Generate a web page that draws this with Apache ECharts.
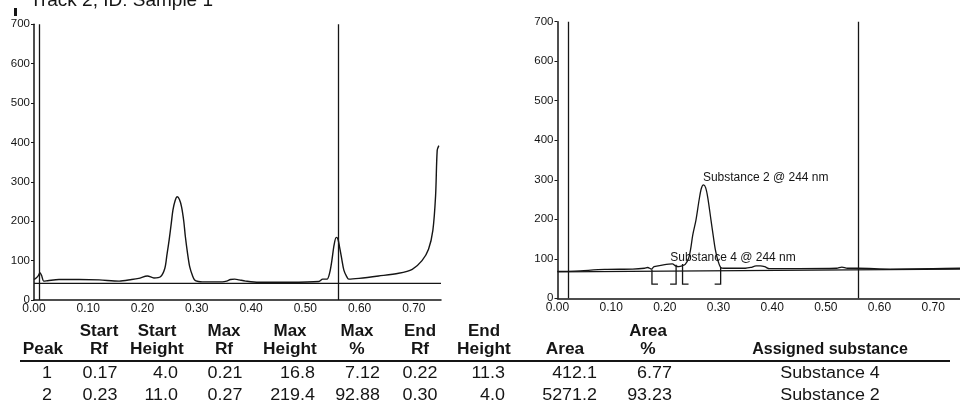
<!DOCTYPE html>
<html><head><meta charset="utf-8">
<script src="https://cdn.jsdelivr.net/npm/echarts@6/dist/echarts.min.js"></script>
<style>html,body{margin:0;padding:0;background:#fff}#c{width:960px;height:405px}</style>
</head><body><div id="c"></div>
<script>
// ---------- data ----------
const xTicks = [0, 0.1, 0.2, 0.3, 0.4, 0.5, 0.6, 0.7];
const yTicks = [0, 100, 200, 300, 400, 500, 600, 700];

// left densitogram (track scan)
const leftRf  = [0.000,0.004,0.008,0.011,0.014,0.018,0.025,0.046,0.083,0.120,0.157,0.180,0.193,0.209,0.221,0.233,0.241,0.245,0.249,0.253,0.256,0.260,0.264,0.268,0.272,0.276,0.279,0.283,0.287,0.292,0.296,0.303,0.310,0.347,0.355,0.362,0.370,0.378,0.390,0.414,0.470,0.525,0.532,0.540,0.545,0.549,0.553,0.557,0.560,0.563,0.567,0.571,0.576,0.580,0.599,0.635,0.672,0.697,0.715,0.727,0.735,0.740,0.743,0.746];
const leftSig = [52,56,62,69,62,48,49,52,52,51,48,52,55,61,56,59,80,115,152,195,228,252,262,255,236,200,160,118,84,62,51,47,46,46,48,52,53,51,48,45,45,47,53,53,70,101,140,159,155,135,105,76,60,53,55,61,68,78,100,129,177,264,380,392];
const leftBaseRf = [0, 0.75];
const leftBaseV = [42, 42];
const leftMarkers = [0.013, 0.556];

// right densitogram (integrated)
const rightRf  = [0.000,0.032,0.088,0.140,0.162,0.168,0.175,0.180,0.195,0.214,0.220,0.226,0.232,0.238,0.244,0.248,0.252,0.258,0.264,0.268,0.272,0.276,0.280,0.286,0.290,0.294,0.299,0.304,0.310,0.350,0.360,0.370,0.378,0.386,0.395,0.450,0.520,0.530,0.540,0.560,0.620,0.700,0.750];
const rightSig = [68,69,73,74,76,78,74,80,84,87,82,80,82,86,100,124,160,198,250,278,287,280,255,198,160,124,95,78,76,76,78,82,82,80,75,75,76,79,76,76,74,75,76];
const rightBaseRf = [0, 0.75];
const rightBaseV = [67, 74];
const rightMarkers = [0.017, 0.559];
const bracketRf = [0.176, 0.221, 0.233, 0.304];
const bracketTop = [73, 85, 87, 77];
const bracketBottom = [36, 36, 36, 36];
const bracketSide = [1, -1, 1, -1];
const peakLabels = ['Substance 2 @ 244 nm', 'Substance 4 @ 244 nm'];
const peakLabelRf = [0.271, 0.21];
const peakLabelV = [290, 88];

// table
const headLine1 = ['', 'Start', 'Start', 'Max', 'Max', 'Max', 'End', 'End', '', 'Area', ''];
const headLine2 = ['Peak', 'Rf', 'Height', 'Rf', 'Height', '%', 'Rf', 'Height', 'Area', '%', 'Assigned substance'];
const peakNo = [1, 2];
const startRf = [0.17, 0.23];
const startHeight = [4.0, 11.0];
const maxRf = [0.21, 0.27];
const maxHeight = [16.8, 219.4];
const maxPct = [7.12, 92.88];
const endRf = [0.22, 0.30];
const endHeight = [11.3, 4.0];
const area = [412.1, 5271.2];
const areaPct = [6.77, 93.23];
const assigned = ['Substance 4', 'Substance 2'];
const titleText = 'Track 2, ID: Sample 1';

// ---------- chart ----------
const FONT = '"Liberation Sans", Arial, sans-serif';
const INK = '#151515';
const chart = echarts.init(document.getElementById('c'), null, {renderer: 'canvas'});
const zip = (a, b) => a.map((v, i) => [v, b[i]]);

function xAxis(g) {
  return {type: 'value', gridIndex: g, min: xTicks[0], max: 0.75, interval: 0.1,
    axisLine: {show: true, onZero: false, lineStyle: {color: INK, width: 1.5}},
    axisTick: {show: false}, splitLine: {show: false},
    axisLabel: {color: INK, fontSize: 12, fontFamily: FONT, margin: 3, showMaxLabel: false,
      formatter: v => xTicks.some(t => Math.abs(t - v) < 1e-6) ? v.toFixed(2) : ''}};
}
function yAxis(g) {
  return {type: 'value', gridIndex: g, min: yTicks[0], max: yTicks[yTicks.length - 1], interval: 100,
    axisLine: {show: true, onZero: false, lineStyle: {color: INK, width: 1.5}},
    axisTick: {show: true, length: 3, lineStyle: {color: INK, width: 1}},
    splitLine: {show: false},
    axisLabel: {color: INK, fontSize: 11.5, fontFamily: FONT, margin: 4}};
}
function markers(list) {
  return {silent: true, symbol: ['none', 'none'], label: {show: false}, animation: false,
    lineStyle: {color: INK, type: 'solid', width: 1.3},
    data: list.map(x => ({xAxis: x}))};
}
const lineBase = {type: 'line', showSymbol: false, symbol: 'none', animation: false, silent: true, clip: true};

// table graphics
const colX = [43, 99, 157, 224, 290, 357, 420, 484, 565, 648, 830];
const valAnchor = [[47,'center'],[100,'center'],[178,'right'],[225,'center'],[315,'right'],[380,'right'],[420,'center'],[505,'right'],[597,'right'],[672,'right'],[830,'center']];
const rowY = [374, 396];
const graphics = [];
function txt(text, x, y, font, align, sx) {
  graphics.push({type: 'text', x: x, y: y, silent: true, scaleX: sx || 1,
    style: {text: text, font: font, fill: INK, align: align, textAlign: align,
      verticalAlign: 'middle', textVerticalAlign: 'middle'}});
}
const HF = 'bold 16px ' + FONT, VF = '16px ' + FONT;
headLine1.forEach((t, i) => { if (t) txt(t, colX[i], 332, HF, 'center', 1.06); });
headLine2.forEach((t, i) => { if (t) txt(t, colX[i], 350, HF, 'center', i === 10 ? 1 : 1.08); });
graphics.push({type: 'line', silent: true, shape: {x1: 20, y1: 361, x2: 950, y2: 361}, style: {stroke: INK, lineWidth: 2}});
const cols = [peakNo.map(String), startRf.map(v => v.toFixed(2)), startHeight.map(v => v.toFixed(1)),
  maxRf.map(v => v.toFixed(2)), maxHeight.map(v => v.toFixed(1)), maxPct.map(v => v.toFixed(2)),
  endRf.map(v => v.toFixed(2)), endHeight.map(v => v.toFixed(1)), area.map(v => v.toFixed(1)),
  areaPct.map(v => v.toFixed(2)), assigned];
cols.forEach((col, c) => col.forEach((t, r) => txt(t, valAnchor[c][0], rowY[r], VF, valAnchor[c][1], 1.12)));
// cut-off track title at the very top
graphics.push({type: 'rect', silent: true, shape: {x: 14, y: 8, width: 3, height: 8}, style: {fill: INK}});
graphics.push({type: 'text', x: 30, y: 10, silent: true,
  style: {text: titleText, font: '19px ' + FONT, fill: INK, align: 'left', textAlign: 'left',
    verticalAlign: 'bottom', textVerticalAlign: 'bottom'}});

chart.setOption({
  backgroundColor: '#ffffff',
  animation: false,
  grid: [
    {left: 34, top: 24.3, width: 407, height: 275.7, containLabel: false},
    {left: 557.5, top: 21.7, width: 405, height: 276.6, containLabel: false}
  ],
  xAxis: [xAxis(0), xAxis(1)],
  yAxis: [yAxis(0), yAxis(1)],
  series: [
    Object.assign({}, lineBase, {xAxisIndex: 0, yAxisIndex: 0, data: zip(leftRf, leftSig), smooth: 0.3,
      lineStyle: {color: INK, width: 1.4}, markLine: markers(leftMarkers)}),
    Object.assign({}, lineBase, {xAxisIndex: 0, yAxisIndex: 0, data: zip(leftBaseRf, leftBaseV),
      lineStyle: {color: INK, width: 1.2}}),
    Object.assign({}, lineBase, {xAxisIndex: 1, yAxisIndex: 1, data: zip(rightRf, rightSig), smooth: 0.3,
      lineStyle: {color: INK, width: 1.3}, markLine: markers(rightMarkers)}),
    Object.assign({}, lineBase, {xAxisIndex: 1, yAxisIndex: 1, data: zip(rightBaseRf, rightBaseV),
      lineStyle: {color: INK, width: 1.2}}),
    {type: 'custom', xAxisIndex: 1, yAxisIndex: 1, silent: true, animation: false,
      data: bracketRf.map((r, i) => [r, bracketTop[i], bracketBottom[i], bracketSide[i]]),
      renderItem: function (params, api) {
        const top = api.coord([api.value(0), api.value(1)]);
        const bot = api.coord([api.value(0), api.value(2)]);
        const dir = api.value(3);
        return {type: 'polyline', shape: {points: [[top[0], top[1]], [bot[0], bot[1]], [bot[0] + dir * 6, bot[1]]]},
          style: {stroke: INK, fill: null, lineWidth: 1.3}};
      }},
    {type: 'custom', xAxisIndex: 1, yAxisIndex: 1, silent: true, animation: false,
      data: peakLabelRf.map((r, i) => [r, peakLabelV[i], i]),
      renderItem: function (params, api) {
        const p = api.coord([api.value(0), api.value(1)]);
        return {type: 'text', x: p[0], y: p[1],
          style: {text: peakLabels[api.value(2)], font: '12px ' + FONT, fill: INK,
            align: 'left', textAlign: 'left', verticalAlign: 'bottom', textVerticalAlign: 'bottom'}};
      }}
  ],
  graphic: graphics
});
</script></body></html>
